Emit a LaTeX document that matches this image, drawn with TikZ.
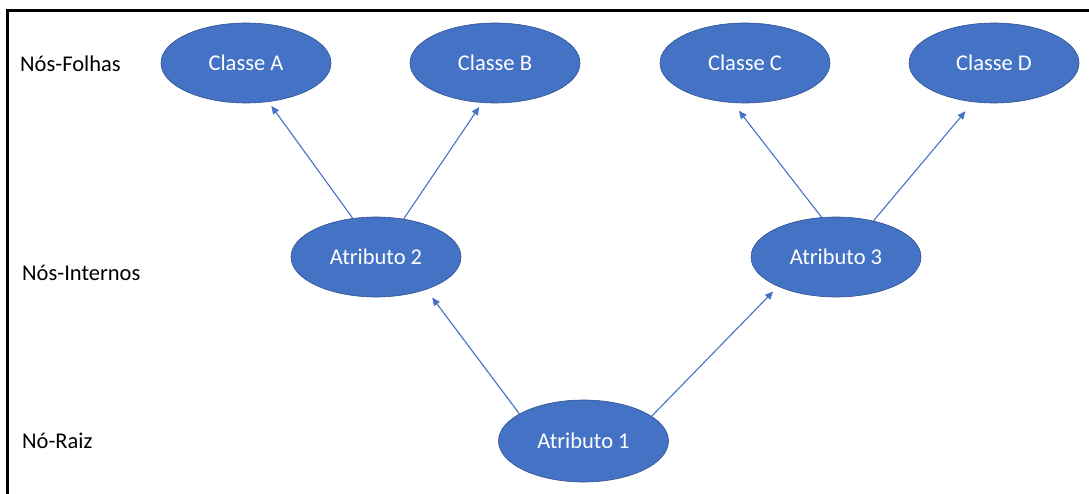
\documentclass[tikz,border=0pt]{standalone}
\usepackage{fontspec}
\setmainfont{Carlito}
\usetikzlibrary{shapes.geometric,arrows.meta}
\definecolor{nodeblue}{RGB}{68,114,196}
\definecolor{nodeedge}{RGB}{47,82,143}
\tikzset{
  treenode/.style={ellipse, fill=nodeblue, draw=nodeedge, line width=0.6pt,
    minimum width=170pt, minimum height=80pt, inner sep=0pt,
    text=white, font=\fontsize{22.5}{27}\selectfont},
  levellabel/.style={anchor=west, inner sep=0pt, text=black,
    font=\fontsize{22.5}{27}\selectfont},
  link/.style={draw=nodeblue, line width=1.1pt,
    -{Triangle[length=8pt,width=7pt]}, shorten >=5pt},
  frame/.style={line width=2.6pt, black}
}
\begin{document}
\begin{tikzpicture}[x=1pt,y=-1pt]
\useasboundingbox (0,0) rectangle (1089,494);
\draw[frame] (7.5,494) -- (7.5,10.5) -- (1089,10.5);

\node[levellabel] (lf) at (20,64) {Nós-Folhas};
\node[levellabel] (li) at (22,273) {Nós-Internos};
\node[levellabel] (lr) at (22,441) {Nó-Raiz};

\node[treenode] (ca) at (246,63) {Classe A};
\node[treenode] (cb) at (495,63) {Classe B};
\node[treenode] (cc) at (745,63) {Classe C};
\node[treenode] (cd) at (994,63) {Classe D};
\node[treenode] (a2) at (376,257) {Atributo 2};
\node[treenode] (a3) at (836,257) {Atributo 3};
\node[treenode, minimum height=82pt] (a1) at (583.5,441) {Atributo 1};

\draw[link] (a2.121) -- (ca.300);
\draw[link] (a2.54) -- (cb.252);
\draw[link, shorten >=10pt] (a3.110) -- (cc.253);
\draw[link, shorten >=12pt] (a3.44) -- (cd.242);
\draw[link, shorten >=10pt] (a1.157) -- (a2.327);
\draw[link, shorten >=7pt] (a1.20) -- (a3.207);
\end{tikzpicture}
\end{document}
